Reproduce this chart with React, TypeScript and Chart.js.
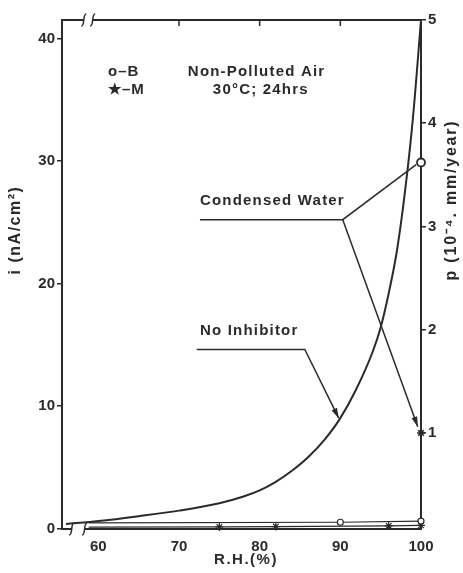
import React, { useEffect, useRef } from "react";
import { Chart, registerables } from "chart.js";
Chart.register(...registerables);

// ---- axes ----
const xTicks = [60, 70, 80, 90, 100];
const leftTicks = [0, 10, 20, 30, 40];
const rightTicks = [1, 2, 3, 4, 5];
const topTickMarks = [70, 80, 90];
const xMin = 55.5, xMax = 100;
const leftMin = -0.05, leftMax = 41.5;
const rightMin = 0.07, rightMax = 5;

// ---- No Inhibitor curve (i, nA/cm2) ----
const rhNoInhibitor = [56, 60, 65, 70, 75, 78, 80, 82, 84, 86, 88, 90, 92, 94, 95, 96, 97, 98, 99, 100];
const iNoInhibitor = [0.35, 0.6, 1.0, 1.45, 2.05, 2.6, 3.1, 3.8, 4.7, 5.8, 7.2, 9.0, 11.4, 14.4, 16.4, 19.2, 22.6, 27.4, 33.5, 41.5];

// ---- inhibitor series near zero ----
const rhB = [58.8, 90, 100];
const iB = [0.45, 0.5, 0.6];
const rhM = [58.8, 75, 82, 96, 100];
const iM = [0.1, 0.12, 0.15, 0.2, 0.25];

// ---- condensed water points (p, 1e-4 mm/year) ----
const rhCondB = [100];
const pCondB = [3.62];
const rhCondM = [100];
const pCondM = [1.0];

// ---- leader lines (in i units) ----
const condLeaderX = [72.6, 90.3, 99.4];
const condLeaderY = [25.2, 25.2, 29.7];
const condArrowX = [90.3, 99.6];
const condArrowY = [25.2, 8.3];
const noInhLeaderX = [72.2, 85.6, 89.8];
const noInhLeaderY = [14.6, 14.6, 9.0];

const INK = "#2a2a2a";
const FONT = "'Liberation Sans', Arial, sans-serif";

const pts = (xs: number[], ys: number[]) => xs.map((x, k) => ({ x, y: ys[k] }));

const texts = [
  { t: "o–B", x: 61.2, y: 37.3, size: 15, sp: 1 },
  { t: "★–M", x: 61.2, y: 35.8, size: 15, sp: 1 },
  { t: "Non-Polluted Air", x: 71.1, y: 37.3, size: 15, sp: 1.2 },
  { t: "30°C; 24hrs", x: 74.2, y: 35.8, size: 15, sp: 1.2 },
  { t: "Condensed Water", x: 72.6, y: 26.7, size: 15, sp: 1.2 },
  { t: "No Inhibitor", x: 72.6, y: 16.1, size: 15, sp: 1.2 },
];

function drawBreak(ctx: CanvasRenderingContext2D, x: number, y: number) {
  ctx.beginPath();
  ctx.moveTo(x + 2.5, y - 6);
  ctx.bezierCurveTo(x - 1.5, y - 6, x + 1.5, y + 6, x - 2.5, y + 6);
  ctx.stroke();
}

function arrowHead(ctx: CanvasRenderingContext2D, x0: number, y0: number, x1: number, y1: number) {
  const a = Math.atan2(y1 - y0, x1 - x0);
  const L = 10, W = 3;
  ctx.beginPath();
  ctx.moveTo(x1, y1);
  ctx.lineTo(x1 - L * Math.cos(a) + W * Math.sin(a), y1 - L * Math.sin(a) - W * Math.cos(a));
  ctx.lineTo(x1 - L * Math.cos(a) - W * Math.sin(a), y1 - L * Math.sin(a) + W * Math.cos(a));
  ctx.closePath();
  ctx.fill();
}

const deco = {
  id: "deco",
  afterDraw(chart: any) {
    const { ctx, chartArea: a, scales } = chart;
    const sx = scales.x, sy = scales.y;
    ctx.save();
    ctx.strokeStyle = INK;
    ctx.fillStyle = INK;
    // top border
    ctx.lineWidth = 2;
    ctx.beginPath();
    ctx.moveTo(a.left - 1, a.top);
    ctx.lineTo(a.right + 1, a.top);
    ctx.stroke();
    // top tick marks
    ctx.lineWidth = 1.5;
    topTickMarks.forEach((v) => {
      const px = sx.getPixelForValue(v);
      ctx.beginPath();
      ctx.moveTo(px, a.top);
      ctx.lineTo(px, a.top + 6);
      ctx.stroke();
    });
    // axis breaks
    const tb = [sx.getPixelForValue(58.2), sx.getPixelForValue(59.3)];
    const bb = [sx.getPixelForValue(56.7), sx.getPixelForValue(58.3)];
    ctx.fillStyle = "#fff";
    ctx.fillRect(tb[0], a.top - 2, tb[1] - tb[0], 4);
    ctx.fillRect(bb[0], a.bottom - 2, bb[1] - bb[0], 4);
    ctx.fillStyle = INK;
    ctx.lineWidth = 1.5;
    tb.forEach((p) => drawBreak(ctx, p, a.top));
    bb.forEach((p) => drawBreak(ctx, p, a.bottom));
    // arrowheads
    const ah = (xs: number[], ys: number[]) => {
      const n = xs.length;
      arrowHead(ctx, sx.getPixelForValue(xs[n - 2]), sy.getPixelForValue(ys[n - 2]), sx.getPixelForValue(xs[n - 1]), sy.getPixelForValue(ys[n - 1]));
    };
    ah(condArrowX, condArrowY);
    ah(noInhLeaderX, noInhLeaderY);
    // texts
    ctx.textBaseline = "middle";
    ctx.textAlign = "left";
    texts.forEach((t) => {
      (ctx as any).letterSpacing = `${t.sp}px`;
      ctx.font = `bold ${t.size}px ${FONT}`;
      ctx.fillText(t.t, sx.getPixelForValue(t.x), sy.getPixelForValue(t.y));
    });
    // axis titles
    ctx.textAlign = "center";
    ctx.font = `bold 16px ${FONT}`;
    (ctx as any).letterSpacing = "1.5px";
    ctx.save();
    ctx.translate(16, 230);
    ctx.rotate(-Math.PI / 2);
    ctx.fillText("i (nA/cm²)", 0, 0);
    ctx.restore();
    (ctx as any).letterSpacing = "1.8px";
    ctx.save();
    ctx.translate(452, 200);
    ctx.rotate(-Math.PI / 2);
    ctx.fillText("p (10⁻⁴. mm/year)", 0, 0);
    ctx.restore();
    ctx.font = `bold 15px ${FONT}`;
    (ctx as any).letterSpacing = "1.5px";
    ctx.fillText("R.H.(%)", 246, 560);
    ctx.restore();
  },
};

export default function App() {
  const ref = useRef<HTMLCanvasElement>(null);
  useEffect(() => {
    const lineDs = (data: any[], extra: any = {}) => ({
      data,
      borderColor: INK,
      backgroundColor: INK,
      borderWidth: 1.5,
      pointRadius: 0,
      tension: 0,
      yAxisID: "y",
      ...extra,
    });
    const chart = new Chart(ref.current!, {
      type: "line",
      data: {
        datasets: [
          lineDs(pts(rhNoInhibitor, iNoInhibitor), { borderWidth: 2, cubicInterpolationMode: "monotone" }),
          lineDs(pts(rhB, iB), { pointStyle: "circle", pointRadius: [0, 3, 3], backgroundColor: "#fff", borderWidth: 1.2, clip: false }),
          lineDs(pts(rhM, iM), { pointStyle: "star", pointRadius: [0, 4, 4, 4, 4], borderWidth: 1.2, clip: false }),
          lineDs(pts(rhCondB, pCondB), { yAxisID: "y2", showLine: false, pointStyle: "circle", pointRadius: 4, backgroundColor: "#fff", borderWidth: 1.8, clip: false }),
          lineDs(pts(rhCondM, pCondM), { yAxisID: "y2", showLine: false, pointStyle: "star", pointRadius: 4, borderWidth: 1.5, clip: false }),
          lineDs(pts(condLeaderX, condLeaderY)),
          lineDs(pts(condArrowX, condArrowY)),
          lineDs(pts(noInhLeaderX, noInhLeaderY)),
        ],
      },
      options: {
        animation: false,
        responsive: false,
        devicePixelRatio: 1,
        layout: { padding: { top: 20, left: 0, right: 0, bottom: 0 } },
        plugins: { legend: { display: false }, tooltip: { enabled: false } },
        scales: {
          x: {
            type: "linear",
            min: xMin,
            max: xMax,
            afterBuildTicks: (s: any) => { s.ticks = xTicks.map((v) => ({ value: v })); },
            afterFit: (s: any) => { s.height = 44; },
            border: { color: INK, width: 2 },
            grid: { drawOnChartArea: false, drawTicks: false },
            ticks: { color: INK, padding: 9, font: { family: FONT, size: 15, weight: "bold" } },
          },
          y: {
            type: "linear",
            position: "left",
            min: leftMin,
            max: leftMax,
            afterBuildTicks: (s: any) => { s.ticks = leftTicks.map((v) => ({ value: v })); },
            afterFit: (s: any) => { s.width = 62; },
            border: { color: INK, width: 2 },
            grid: { drawOnChartArea: false, color: INK, lineWidth: 1.5, tickLength: 5 },
            ticks: { color: INK, padding: 2, font: { family: FONT, size: 15, weight: "bold" } },
          },
          y2: {
            type: "linear",
            position: "right",
            min: rightMin,
            max: rightMax,
            afterBuildTicks: (s: any) => { s.ticks = rightTicks.map((v) => ({ value: v })); },
            afterFit: (s: any) => { s.width = 42; },
            border: { color: INK, width: 2 },
            grid: { drawOnChartArea: false, color: INK, lineWidth: 1.5, tickLength: 5 },
            ticks: { color: INK, padding: 2, font: { family: FONT, size: 15, weight: "bold" } },
          },
        },
      },
      plugins: [deco],
    } as any);
    return () => chart.destroy();
  }, []);
  return (
    <div style={{ position: "absolute", left: 0, top: 0, width: 463, height: 573, background: "#fff" }}>
      <canvas ref={ref} width={463} height={573} style={{ display: "block" }} />
    </div>
  );
}
